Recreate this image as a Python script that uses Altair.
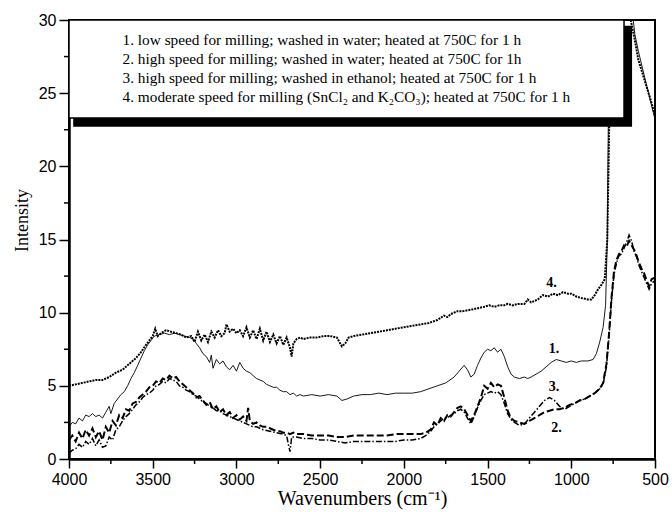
import altair as alt
import pandas as pd

# ---------------- data ----------------
wn1 = [4000,3980,3960,3940,3920,3900,3880,3860,3840,3820,3800,3780,3760,3750,3730,3710,3690,3670,3650,3630,
       3610,3590,3570,3550,3530,3510,3490,3460,3430,3400,3370,3340,3310,3280,3260,3240,3220,3200,3180,3160,
       3150,3140,3120,3100,3080,3060,3040,3020,3000,2980,2960,2940,2920,2900,2880,2860,2840,2820,2800,2780,
       2760,2740,2720,2700,2680,2660,2640,2620,2600,2550,2500,2450,2400,2370,2340,2300,2250,2200,2150,2100,
       2050,2000,1950,1900,1850,1800,1750,1700,1670,1640,1620,1600,1580,1560,1540,1520,1500,1480,1460,1440,
       1420,1400,1380,1360,1340,1310,1280,1260,1240,1210,1180,1150,1120,1090,1060,1030,1000,970,940,900,
       870,850,830,810,795,785,775,760,720,680,640,620,600,560,530,500]
v1 = [2.2,2.5,2.4,2.8,2.6,3.0,2.9,3.1,2.9,3.0,2.8,3.2,3.6,3.1,3.8,4.1,4.4,4.6,5.0,5.5,
      5.9,6.4,6.9,7.4,7.8,8.1,8.4,8.5,8.6,8.5,8.6,8.5,8.4,8.3,8.2,7.9,7.6,7.2,7.0,6.6,
      7.1,6.2,6.8,6.5,6.7,6.3,6.1,6.4,6.0,6.6,6.2,6.0,5.9,5.7,5.5,5.4,5.3,5.1,5.0,4.9,
      4.9,4.7,4.6,4.6,4.4,4.5,4.3,4.4,4.3,4.4,4.3,4.4,4.3,4.0,4.1,4.3,4.4,4.4,4.5,4.4,
      4.5,4.5,4.5,4.6,4.8,5.0,5.2,5.6,6.0,6.4,6.1,5.6,5.8,6.4,6.9,7.3,7.5,7.4,7.6,7.3,
      7.5,7.0,6.3,5.8,5.6,5.5,5.6,5.5,5.6,5.8,6.0,6.3,6.6,6.8,6.7,6.6,6.7,6.6,6.7,6.7,
      6.8,7.2,8.0,9.0,10.5,15.0,28.0,35.0,40.0,38.0,31.0,29.0,27.9,26.0,24.6,23.2]

wn2 = [4000,3980,3960,3940,3920,3900,3880,3860,3840,3820,3800,3780,3760,3740,3720,3700,3680,3660,3640,3620,
       3600,3580,3560,3540,3520,3500,3480,3460,3440,3420,3400,3380,3360,3340,3320,3300,3280,3260,3240,3220,
       3200,3180,3160,3140,3120,3100,3080,3060,3040,3020,3000,2980,2960,2940,2930,2920,2900,2880,2860,2840,
       2820,2800,2780,2760,2740,2720,2700,2680,2660,2640,2600,2550,2500,2450,2400,2350,2300,2250,2200,2150,
       2100,2050,2000,1950,1900,1870,1840,1820,1800,1780,1760,1740,1720,1700,1680,1660,1640,1620,1600,1580,
       1560,1540,1520,1500,1480,1460,1440,1420,1400,1380,1360,1340,1310,1280,1250,1220,1190,1160,1130,1100,
       1070,1040,1010,980,950,920,890,860,830,810,790,775,760,745,730,715,700,685,670,655,
       640,625,610,595,580,565,550,535,520,500]
v2 = [1.3,1.6,1.2,1.8,1.4,2.0,1.6,2.1,1.5,1.9,1.3,2.2,1.8,2.6,2.3,3.0,2.8,3.4,3.3,3.8,
      3.9,4.2,4.4,4.6,4.9,5.0,5.3,5.2,5.5,5.4,5.7,5.5,5.6,5.3,5.1,4.9,4.7,4.5,4.2,4.3,
      4.0,3.7,3.9,3.4,3.6,3.2,3.4,3.0,3.2,2.8,3.0,2.7,2.9,2.6,3.5,2.6,2.4,2.5,2.3,2.2,
      2.2,2.1,2.0,1.9,1.9,1.8,1.8,1.7,1.8,1.7,1.7,1.6,1.6,1.6,1.5,1.5,1.6,1.6,1.6,1.6,
      1.6,1.7,1.7,1.7,1.7,1.8,2.0,2.5,2.3,2.8,2.6,3.0,2.9,3.2,3.5,3.6,3.4,3.0,2.6,3.0,
      3.6,4.2,5.0,4.8,5.2,4.9,5.1,5.0,4.2,3.3,2.8,2.6,2.5,2.4,2.6,2.8,3.0,3.2,3.3,3.4,
      3.4,3.5,3.7,3.8,4.0,4.1,4.3,4.5,4.8,5.2,6.5,8.5,11.0,12.8,13.6,14.0,14.2,14.6,14.5,14.9,
      14.6,14.3,13.9,13.4,13.0,12.7,12.2,11.8,12.3,12.4]

wn3 = [4000,3980,3960,3940,3920,3900,3880,3860,3840,3820,3800,3780,3760,3740,3720,3700,3680,3660,3640,3620,
       3600,3580,3560,3540,3520,3500,3480,3460,3440,3420,3400,3380,3360,3340,3320,3300,3280,3260,3240,3220,
       3200,3180,3160,3140,3120,3100,3080,3060,3040,3020,3000,2980,2960,2940,2920,2900,2880,2860,2840,2800,
       2760,2720,2700,2690,2680,2670,2640,2600,2550,2500,2450,2400,2350,2300,2250,2200,2150,2100,2050,2000,
       1950,1900,1870,1840,1820,1800,1780,1760,1740,1720,1700,1680,1660,1640,1620,1600,1580,1560,1540,1520,
       1500,1480,1460,1440,1420,1400,1380,1360,1340,1310,1280,1250,1220,1190,1160,1130,1100,1070,1040,1010,
       980,950,920,890,860,830,810,790,775,760,745,730,715,700,685,670,655,640,625,610,
       595,580,565,550,535,520,500]
v3 = [0.4,0.6,0.7,1.0,0.8,1.2,1.0,1.4,0.9,1.3,0.8,0.9,1.5,1.3,2.0,2.2,2.6,2.9,3.1,3.4,
      3.7,3.9,4.2,4.4,4.5,4.7,5.0,5.1,5.3,5.2,5.5,5.4,5.3,5.0,4.9,4.7,4.6,4.4,4.3,4.1,
      3.9,3.8,3.6,3.5,3.3,3.3,3.1,3.0,2.9,2.8,2.7,2.6,2.5,2.4,2.3,2.2,2.2,2.1,2.0,1.9,
      1.8,1.7,1.6,1.0,0.5,1.5,1.5,1.4,1.4,1.3,1.3,1.2,1.1,1.2,1.2,1.2,1.2,1.2,1.2,1.3,
      1.3,1.4,1.6,1.9,2.2,2.4,2.6,2.8,2.8,3.0,3.1,3.3,3.4,3.2,2.8,2.4,2.9,3.5,4.0,4.4,
      4.5,4.6,4.5,4.6,4.4,3.8,3.1,2.7,2.5,2.3,2.4,2.8,3.2,3.6,4.0,4.2,4.0,3.6,3.4,3.6,
      3.8,4.0,4.1,4.3,4.5,4.8,5.1,6.3,8.3,10.8,12.6,13.4,13.9,14.0,14.4,14.8,15.3,14.9,14.2,13.8,
      13.2,12.8,12.4,12.0,11.6,12.0,12.2]

wn4 = [4000,3960,3920,3880,3840,3800,3760,3720,3680,3640,3600,3570,3540,3520,3500,3485,3470,3450,3420,3390,
       3360,3330,3300,3270,3250,3230,3210,3190,3170,3150,3130,3110,3090,3070,3060,3040,3020,3000,2980,2960,
       2940,2920,2900,2880,2860,2840,2820,2800,2780,2760,2740,2720,2700,2680,2670,2660,2640,2620,2600,2560,
       2520,2480,2440,2400,2370,2350,2330,2300,2250,2200,2150,2100,2050,2000,1950,1900,1850,1800,1760,1740,
       1720,1700,1680,1650,1600,1560,1520,1490,1460,1430,1400,1380,1350,1320,1280,1260,1240,1200,1170,1140,
       1110,1080,1050,1020,1000,970,940,900,880,860,840,820,800,785,770,760,720,680,645,620,
       600,560,530,500]
v4 = [5.0,5.1,5.2,5.3,5.4,5.4,5.6,5.9,6.1,6.5,6.9,7.3,7.8,8.1,8.4,8.9,8.4,8.6,8.8,8.7,
      8.6,8.5,8.3,8.4,8.0,8.7,8.1,8.5,8.0,8.7,8.3,8.8,8.4,8.6,9.2,8.7,8.9,8.6,8.8,8.4,
      9.0,8.3,8.8,8.2,8.9,8.1,8.7,8.0,8.5,7.9,8.4,7.8,8.3,7.6,7.0,7.9,8.2,8.3,8.2,8.3,
      8.3,8.4,8.4,8.3,7.7,7.9,8.3,8.4,8.5,8.6,8.7,8.8,8.9,9.0,9.1,9.2,9.3,9.5,9.8,9.7,
      9.9,10.0,10.1,10.1,10.2,10.3,10.4,10.5,10.4,10.5,10.5,10.6,10.5,10.6,10.6,10.9,10.7,10.9,11.2,11.1,
      11.3,11.2,11.4,11.3,11.3,11.1,11.0,10.9,10.9,11.2,11.6,11.9,12.3,15.0,25.0,32.0,40.0,38.0,30.0,28.6,
      27.3,25.8,24.7,23.5]

legend_lines = [
    "1. low speed for milling; washed in water; heated at 750C for 1 h",
    "2. high speed for milling; washed in water; heated at 750C for 1h",
    "3. high speed for milling; washed in ethanol; heated at 750C for 1 h",
    "4. moderate speed for milling (SnCl\u2082 and K\u2082CO\u2083); heated at 750C for 1 h",
]
curve_labels = ["1.", "2.", "3.", "4."]

x_ticks = [4000, 3500, 3000, 2500, 2000, 1500, 1000, 500]
x_minor = [3750, 3250, 2750, 2250, 1750, 1250, 750]
y_ticks = [0, 5, 10, 15, 20, 25, 30]
y_minor = [2.5, 7.5, 12.5, 17.5, 22.5, 27.5]

# ---------------- placement of annotations ----------------
legend_x = 3680
legend_y = [28.6, 27.33, 26.03, 24.73]
label_wn = [1135, 1120, 1135, 1150]
label_val = [7.55, 2.15, 4.95, 12.0]

W, H = 586, 439
serif = "Liberation Serif"
sans = "Liberation Sans"

xs = alt.Scale(domain=[4000, 500], nice=False, zero=False)
ys = alt.Scale(domain=[0, 30], nice=False, zero=False)

xaxis = alt.Axis(values=x_ticks, title="Wavenumbers (cm\u207b\u00b9)", titleFont=serif, titleFontSize=20,
                 titleFontWeight="normal", titleColor="black", titlePadding=1,
                 labelFont=sans, labelFontSize=16, labelColor="black", labelPadding=3,
                 labelFlush=False, labelOverlap=False, format="d",
                 tickSize=9, tickWidth=1.5, tickColor="black",
                 domainColor="black", domainWidth=2.5, grid=False)
yaxis = alt.Axis(values=y_ticks, title="Intensity", titleFont=serif, titleFontSize=18,
                 titleFontWeight="normal", titleColor="black",
                 titleX=-47, titleY=200, titleAngle=270, titleAlign="center", titleBaseline="middle",
                 labelFont=sans, labelFontSize=16, labelColor="black", labelPadding=3,
                 labelFlush=False, labelOverlap=False, format="d",
                 tickSize=10, tickWidth=1.5, tickColor="black",
                 domainColor="black", domainWidth=2.5, grid=False)

X = alt.X("wn:Q", scale=xs, axis=xaxis)
Y = alt.Y("val:Q", scale=ys, axis=yaxis)


def frame(w, v):
    return pd.DataFrame({"wn": w, "val": v})


line1 = alt.Chart(frame(wn1, v1)).mark_line(color="black", strokeWidth=0.9, clip=True).encode(x=X, y=Y)
line2 = alt.Chart(frame(wn2, v2)).mark_line(color="black", strokeWidth=2, strokeDash=[7, 3], clip=True).encode(x=X, y=Y)
line3 = alt.Chart(frame(wn3, v3)).mark_line(color="black", strokeWidth=1.5, strokeDash=[6, 2, 1.5, 2], clip=True).encode(x=X, y=Y)
line4 = alt.Chart(frame(wn4, v4)).mark_line(color="black", strokeWidth=2, strokeDash=[2, 1], clip=True).encode(x=X, y=Y)

# legend box with drop shadow (in data coordinates)
shadow = alt.Chart(pd.DataFrame({"wn": [3975], "wn2": [637], "val": [22.7], "val2": [29.6]})).mark_rect(
    color="black").encode(x=X, x2="wn2", y=Y, y2="val2")
box = alt.Chart(pd.DataFrame({"wn": [4000], "wn2": [685], "val": [23.3], "val2": [30]})).mark_rect(
    fill="white", stroke="black", strokeWidth=1.5).encode(x=X, x2="wn2", y=Y, y2="val2")

legend_text = alt.Chart(pd.DataFrame({"wn": [legend_x] * 4, "val": legend_y, "t": legend_lines})).mark_text(
    align="left", baseline="middle", font=serif, fontSize=15.3, color="black").encode(x=X, y=Y, text="t:N")

labels = alt.Chart(pd.DataFrame({"wn": label_wn, "val": label_val, "t": curve_labels})).mark_text(
    align="left", baseline="middle", font=serif, fontSize=14, fontWeight="bold", color="black").encode(
    x=X, y=Y, text="t:N")

xminor = alt.Chart(pd.DataFrame({"wn": x_minor})).mark_rule(color="black", strokeWidth=1.5).encode(
    x=X, y=alt.value(H), y2=alt.value(H + 5))
yminor = alt.Chart(pd.DataFrame({"val": y_minor})).mark_rule(color="black", strokeWidth=1.5).encode(
    y=Y, x=alt.value(0), x2=alt.value(-5))

chart = alt.layer(line1, line2, line3, line4, shadow, box, legend_text, labels, xminor, yminor).properties(
    width=W, height=H,
    padding={"left": 69, "top": 20, "right": 17, "bottom": 53},
    autosize=alt.AutoSizeParams(type="none"),
    background="white",
).configure_view(stroke="black", strokeWidth=2)

chart.save("out.html", embed_options={"renderer": "svg", "actions": False})
